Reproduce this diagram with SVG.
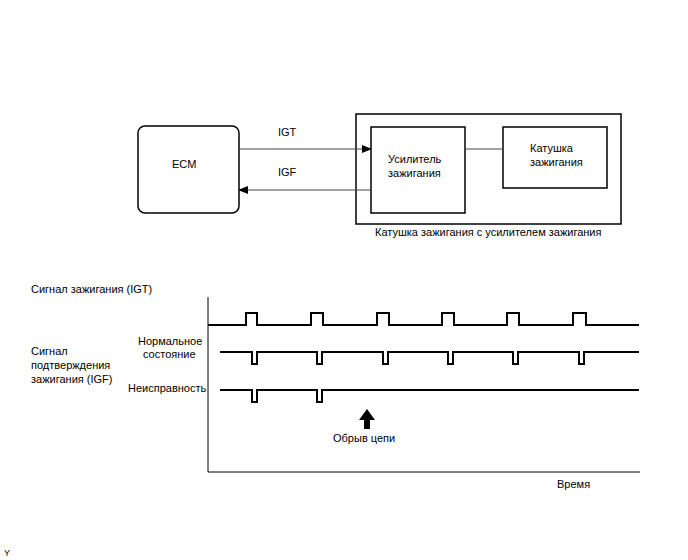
<svg xmlns="http://www.w3.org/2000/svg" width="688" height="560" viewBox="0 0 688 560">
<style>
text{font-family:"Liberation Sans",Arial,sans-serif;font-size:11px;fill:#000}
.box{fill:#fff;stroke:#000;stroke-width:1.5}
.conn{stroke:#444;stroke-width:1;fill:none}
.sig{stroke:#000;stroke-width:2;fill:none}
.axis{stroke:#000;stroke-width:1;fill:none}
</style>
<defs>
<marker id="ah" markerWidth="10" markerHeight="8" refX="9" refY="4" orient="auto" markerUnits="userSpaceOnUse">
<path d="M0,0 L10,4 L0,8 Z" fill="#000"/>
</marker>
</defs>
<rect width="688" height="560" fill="#fff"/>
<g id="ecm">
<rect class="box" x="138" y="126" width="101" height="87" rx="7"/>
<text x="172" y="168">ECM</text>
</g>
<g id="coil-assembly">
<rect class="box" x="356" y="114" width="265" height="110"/>
<text x="375" y="236">Катушка зажигания с усилителем зажигания</text>
</g>
<g id="igniter">
<rect class="box" x="371" y="127" width="94" height="86"/>
<text x="388" y="163">Усилитель</text>
<text x="388" y="177">зажигания</text>
</g>
<g id="coil">
<rect class="box" x="503" y="127" width="104" height="61"/>
<text x="530" y="152">Катушка</text>
<text x="530" y="166">зажигания</text>
</g>
<g id="connectors">
<line class="conn" x1="239" y1="149" x2="371" y2="149" marker-end="url(#ah)"/>
<line class="conn" x1="371" y1="190" x2="239" y2="190" marker-end="url(#ah)"/>
<line class="conn" x1="465" y1="149" x2="503" y2="149"/>
<text x="278" y="136">IGT</text>
<text x="278" y="176">IGF</text>
</g>
<g id="chart">
<path class="axis" d="M208,297 V472 H640"/>
<path class="sig" d="M208,325 H246 V313 H257 V325 H311 V313 H323 V325 H377 V313 H389 V325 H442 V313 H454 V325 H507 V313 H519 V325 H573 V313 H586 V325 H639"/>
<path class="sig" d="M220,352 H252 V364 H257 V352 H317 V364 H322 V352 H383 V364 H388 V352 H448 V364 H453 V352 H513 V364 H518 V352 H579 V364 H584 V352 H639"/>
<path class="sig" d="M220,390 H252 V402 H257 V390 H317 V402 H322 V390 H639"/>
<path d="M367,409 L375,420 L370,420 L370,429 L364,429 L364,420 L359,420 Z" fill="#000"/>
<text x="31" y="293">Сигнал зажигания (IGT)</text>
<text x="138" y="345">Нормальное</text>
<text x="143" y="358">состояние</text>
<text x="31" y="355">Сигнал</text>
<text x="31" y="369">подтверждения</text>
<text x="31" y="383">зажигания (IGF)</text>
<text x="128" y="392">Неисправность</text>
<text x="333" y="442">Обрыв цепи</text>
<text x="557" y="488">Время</text>
</g>
<text x="4" y="556" style="font-size:9px">Y</text>
</svg>
